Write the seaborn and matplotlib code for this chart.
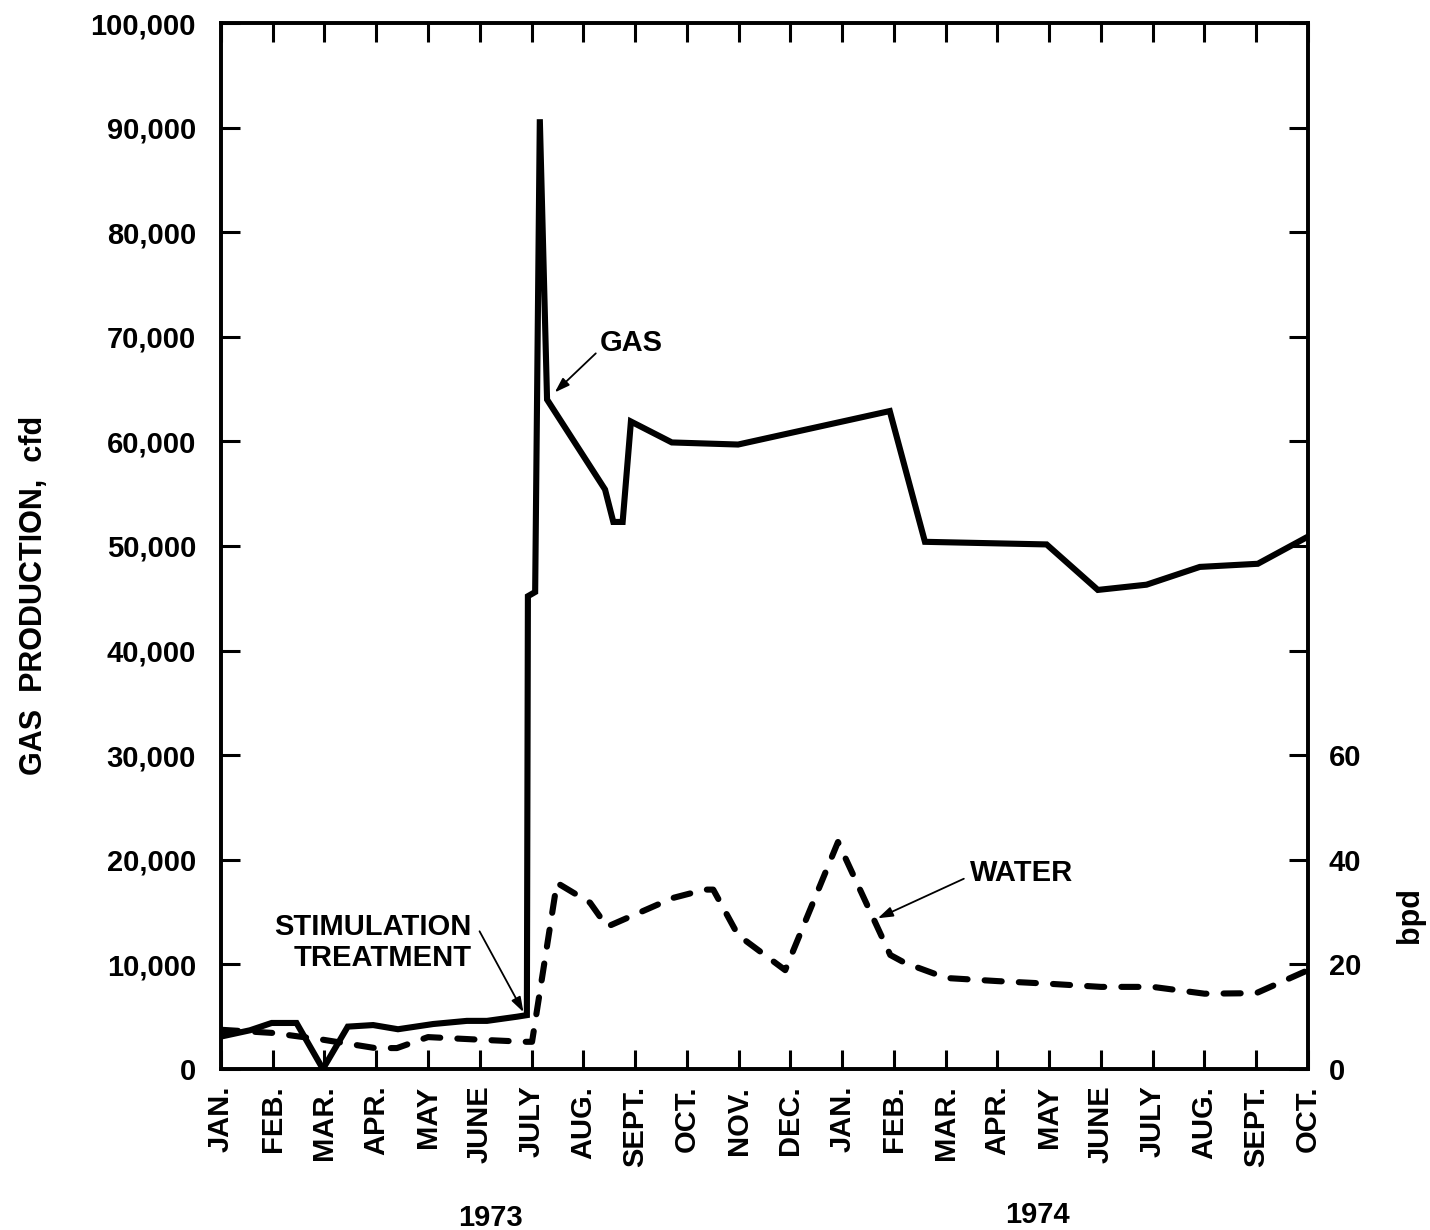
import numpy as np
import pandas as pd
import matplotlib
matplotlib.use("Agg")
import matplotlib.pyplot as plt
import seaborn as sns
from matplotlib.ticker import FuncFormatter

# month labels, Jan 1973 .. Oct 1974 (x = month index)
months = ["JAN.", "FEB.", "MAR.", "APR.", "MAY", "JUNE", "JULY", "AUG.", "SEPT.", "OCT.", "NOV.", "DEC.",
          "JAN.", "FEB.", "MAR.", "APR.", "MAY", "JUNE", "JULY", "AUG.", "SEPT.", "OCT."]

# gas production, cfd
gas_x = [0.0, 0.56, 0.98, 1.46, 1.97, 2.45, 2.94, 3.42, 4.10, 4.75, 5.14, 5.72, 5.91,
         5.93, 6.07, 6.16, 6.30, 7.42, 7.58, 7.76, 7.92, 8.71, 9.99, 12.92, 13.60,
         15.95, 16.94, 17.88, 18.91, 20.03, 21.0]
gas_cfd = [3100, 3700, 4400, 4400, 0, 4050, 4200, 3800, 4300, 4600, 4600, 5000, 5150,
           45200, 45600, 90800, 64000, 55400, 52300, 52300, 61900, 59900, 59700, 62900, 50400,
           50150, 45800, 46300, 48000, 48300, 50900]

# water production, bpd
water_x = [0.0, 0.99, 1.97, 2.98, 3.40, 4.0, 5.0, 5.87, 6.01, 6.49, 7.13, 7.46, 8.73, 9.35,
           9.51, 9.99, 10.90, 11.92, 12.93, 13.21, 14.01, 15.01, 16.0, 17.0, 18.0, 19.0, 20.0, 21.0]
water_bpd = [7.5, 6.9, 5.6, 4.0, 4.0, 6.1, 5.6, 5.2, 5.2, 35.6, 31.8, 27.2, 32.7, 34.3,
             34.3, 25.6, 18.9, 43.4, 21.8, 20.3, 17.4, 16.8, 16.3, 15.7, 15.7, 14.4, 14.5, 18.9]

gas = pd.DataFrame({"month": gas_x, "cfd": gas_cfd})
water = pd.DataFrame({"month": water_x, "bpd": water_bpd})

sns.set_style("ticks")
plt.rcParams["font.family"] = ["Liberation Sans", "DejaVu Sans"]
plt.rcParams["font.weight"] = "bold"
for k in ["text.color", "axes.labelcolor", "xtick.color", "ytick.color", "axes.edgecolor"]:
    plt.rcParams[k] = "black"

fig = plt.figure(figsize=(14.3, 12.3), dpi=100)
ax = fig.add_axes([0.1545, 0.1309, 0.7602, 0.8504])

sns.lineplot(data=gas, x="month", y="cfd", ax=ax, color="black", lw=4.4,
             estimator=None, sort=False, solid_joinstyle="miter")

ax2 = ax.twinx()
sns.lineplot(data=water, x="month", y="bpd", ax=ax2, color="black", lw=4.4,
             estimator=None, sort=False)
wline = ax2.lines[-1]
wline.set_dashes([2.8, 2.8])
wline.set_dash_capstyle("round")

ax.set_xlim(0, 21)
ax.set_ylim(0, 100000)
ax2.set_ylim(0, 200)

ax.set_xticks(range(len(months)))
ax.set_xticklabels(months, rotation=90, fontsize=21, fontweight="bold", va="top", ha="center")
ax.set_yticks(np.arange(0, 100001, 10000))
ax.yaxis.set_major_formatter(FuncFormatter(lambda v, p: f"{int(v):,}"))
ax.tick_params(axis="y", labelsize=21, direction="in", length=14, width=2.2, pad=18)
ax.tick_params(axis="x", direction="in", length=14, width=2.2, pad=12, top=True)
for lab in ax.get_yticklabels():
    lab.set_fontweight("bold")

ax2.set_yticks(np.arange(0, 201, 20))
ax2.set_yticklabels(["0", "20", "40", "60"] + [""] * 7, fontsize=21, fontweight="bold")
ax2.tick_params(axis="y", direction="in", length=14, width=2.2, pad=15)

for a in (ax, ax2):
    for s in a.spines.values():
        s.set_linewidth(2.6)
        s.set_color("black")
        s.set_visible(True)

ax.set_xlabel("")
ax.set_ylabel("GAS  PRODUCTION,  cfd", fontsize=22, fontweight="bold")
ax.yaxis.set_label_coords(-0.158, 0.453)
ax2.set_ylabel("bpd", fontsize=22, fontweight="bold")
ax2.yaxis.set_label_coords(1.080, 0.147)

# annotations
arrow = dict(arrowstyle="-|>,head_length=0.9,head_width=0.3", color="black", lw=1.3)
ax.text(7.32, 69400, "GAS", fontsize=21, fontweight="bold", ha="left", va="center")
ax.annotate("", xy=(6.41, 64500), xytext=(7.28, 68600), arrowprops=arrow)
ax.text(14.47, 18700, "WATER", fontsize=21, fontweight="bold", ha="left", va="center")
ax.annotate("", xy=(12.64, 14300), xytext=(14.40, 18300), arrowprops=arrow)
ax.text(4.85, 12100, "STIMULATION\nTREATMENT", fontsize=21, fontweight="bold",
        ha="right", va="center", multialignment="right", linespacing=1.1)
ax.annotate("", xy=(5.87, 5200), xytext=(4.97, 13400), arrowprops=arrow)

fig.text(0.3427, 0.003, "1973", fontsize=21, fontweight="bold", ha="center", va="baseline")
fig.text(0.7252, 0.006, "1974", fontsize=21, fontweight="bold", ha="center", va="baseline")

fig.savefig("out.png", dpi=100, facecolor="white")
